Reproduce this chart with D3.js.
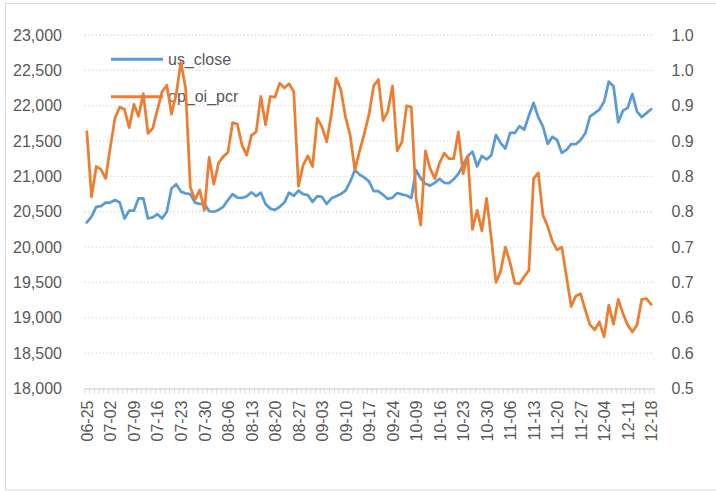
<!DOCTYPE html>
<html>
<head>
<meta charset="utf-8">
<script src="https://cdn.jsdelivr.net/npm/d3@7"></script>
<style>
  body { margin: 0; background: #fff; }
  svg { display: block; font-family: "Liberation Sans", Arial, sans-serif; }
  .tick text { fill: #595959; font-size: 16px; }
</style>
</head>
<body>
<div id="chart"></div>
<script>
// category labels shown on the axis (every 5th trading day)
var tickLabels = ["06-25", "07-02", "07-09", "07-16", "07-23", "07-30", "08-06", "08-13", "08-20", "08-27",
  "09-03", "09-10", "09-17", "09-24", "10-09", "10-16", "10-23", "10-30", "11-06", "11-13",
  "11-20", "11-27", "12-04", "12-11", "12-18"];
var labelStep = 5;

var usClose = [20350, 20430, 20570, 20580, 20630, 20630, 20665, 20630, 20405, 20515,
  20515, 20690, 20690, 20405, 20420, 20465, 20405, 20500, 20830, 20890,
  20785, 20760, 20750, 20630, 20610, 20610, 20510, 20500, 20525, 20570,
  20665, 20750, 20700, 20695, 20720, 20775, 20720, 20770, 20610, 20545,
  20525, 20570, 20630, 20770, 20725, 20800, 20750, 20735, 20640, 20720,
  20710, 20610, 20690, 20720, 20750, 20800, 20925, 21090, 21025, 20985,
  20930, 20790, 20790, 20740, 20680, 20700, 20765, 20745, 20730, 20695,
  21090, 20970, 20895, 20870, 20910, 20965, 20910, 20905, 20960, 21035,
  21160, 21290, 21350, 21140, 21290, 21240, 21300, 21585, 21470, 21395,
  21615, 21615, 21710, 21660, 21860, 22040, 21835, 21705, 21460, 21560,
  21515, 21335, 21375, 21455, 21455, 21515, 21610, 21850, 21895, 21945,
  22060, 22340, 22275, 21765, 21930, 21970, 22165, 21915, 21840, 21895,
  21950];

var opOiPcr = [0.863, 0.771, 0.814, 0.810, 0.797, 0.842, 0.883, 0.898, 0.895, 0.869,
  0.902, 0.885, 0.917, 0.861, 0.868, 0.894, 0.920, 0.929, 0.888, 0.917,
  0.961, 0.925, 0.785, 0.767, 0.781, 0.752, 0.827, 0.789, 0.819, 0.828,
  0.834, 0.876, 0.874, 0.844, 0.830, 0.858, 0.863, 0.913, 0.873, 0.913,
  0.912, 0.932, 0.925, 0.931, 0.920, 0.786, 0.816, 0.829, 0.814, 0.882,
  0.870, 0.849, 0.888, 0.939, 0.923, 0.884, 0.858, 0.809, 0.836, 0.860,
  0.888, 0.928, 0.937, 0.879, 0.892, 0.928, 0.836, 0.849, 0.900, 0.898,
  0.770, 0.731, 0.836, 0.811, 0.797, 0.819, 0.833, 0.825, 0.825, 0.863,
  0.804, 0.829, 0.725, 0.752, 0.723, 0.769, 0.713, 0.650, 0.666, 0.700,
  0.678, 0.649, 0.648, 0.658, 0.667, 0.797, 0.805, 0.745, 0.729, 0.708,
  0.696, 0.700, 0.658, 0.616, 0.631, 0.634, 0.611, 0.590, 0.583, 0.594,
  0.573, 0.618, 0.591, 0.626, 0.606, 0.590, 0.580, 0.590, 0.626, 0.627,
  0.619];

var leftTicks = [18000, 18500, 19000, 19500, 20000, 20500, 21000, 21500, 22000, 22500, 23000];
var rightTicks = [0.5, 0.55, 0.6, 0.65, 0.7, 0.75, 0.8, 0.85, 0.9, 0.95, 1.0];
var rightTickLabels = ["0.5", "0.6", "0.6", "0.7", "0.7", "0.8", "0.8", "0.9", "0.9", "1.0", "1.0"];

var series = [
  {name: "us_close", values: usClose, color: "#5B9BD5", axis: "left"},
  {name: "op_oi_pcr", values: opOiPcr, color: "#ED7D31", axis: "right"}
];

var width = 716, height = 491;
var plot = {left: 84.5, right: 653.5, top: 35, bottom: 388.5};
var n = usClose.length;

var svg = d3.select("#chart").append("svg")
  .attr("width", width)
  .attr("height", height);

// outer chart frame
svg.append("rect")
  .attr("x", 5.5).attr("y", 3.5)
  .attr("width", 720).attr("height", 486.5)
  .attr("fill", "none")
  .attr("stroke", "#D9D9D9");

var x = d3.scaleLinear().domain([-0.5, n - 0.5]).range([plot.left, plot.right]);
var yL = d3.scaleLinear().domain([18000, 23000]).range([plot.bottom, plot.top]);
var yR = d3.scaleLinear().domain([0.5, 1.0]).range([plot.bottom, plot.top]);

// dotted gridlines
svg.append("g").selectAll("line")
  .data(leftTicks.slice(1))
  .enter().append("line")
  .attr("x1", plot.left).attr("x2", plot.right)
  .attr("y1", function(d) { return yL(d); })
  .attr("y2", function(d) { return yL(d); })
  .attr("stroke", "#D9D9D9")
  .attr("stroke-width", 1.3)
  .attr("stroke-dasharray", "1.3,2.4");

// left axis
var leftAxis = svg.append("g")
  .attr("transform", "translate(" + plot.left + ",0)")
  .call(d3.axisLeft(yL).tickValues(leftTicks).tickFormat(d3.format(",")).tickSize(0).tickPadding(22.5));
leftAxis.select(".domain").remove();

// right axis
var rightAxis = svg.append("g")
  .attr("transform", "translate(" + plot.right + ",0)")
  .call(d3.axisRight(yR).tickValues(rightTicks)
    .tickFormat(function(d, i) { return rightTickLabels[i]; })
    .tickSize(0).tickPadding(18));
rightAxis.select(".domain").remove();

// category axis: small tick between each category
var minorTicks = d3.range(n + 1).map(function(i) { return i - 0.5; });
var tickAxis = svg.append("g")
  .attr("transform", "translate(0," + plot.bottom + ")")
  .call(d3.axisBottom(x).tickValues(minorTicks).tickFormat("").tickSize(5).tickSizeOuter(0));
tickAxis.selectAll("line").attr("stroke", "#D9D9D9").attr("stroke-width", 1);
tickAxis.select(".domain").attr("stroke", "#D9D9D9").attr("stroke-width", 1.5);

var labelIdx = tickLabels.map(function(d, i) { return i * labelStep; });
var labelAxis = svg.append("g")
  .attr("transform", "translate(0," + plot.bottom + ")")
  .call(d3.axisBottom(x).tickValues(labelIdx)
    .tickFormat(function(d) { return tickLabels[d / labelStep]; })
    .tickSize(0));
labelAxis.select(".domain").remove();
labelAxis.selectAll("text")
  .attr("text-anchor", "end")
  .attr("transform", "rotate(-90)")
  .attr("x", -12)
  .attr("y", 0)
  .attr("dy", "0.35em");

// legend (drawn under the lines, as in the original)
var legend = svg.append("g").selectAll("g")
  .data(series)
  .enter().append("g")
  .attr("transform", function(d, i) { return "translate(111," + (59.3 + i * 37.4) + ")"; });
legend.append("line")
  .attr("x1", 0).attr("x2", 52)
  .attr("stroke", function(d) { return d.color; })
  .attr("stroke-width", 3);
legend.append("text")
  .attr("x", 57)
  .attr("dy", "0.35em")
  .attr("fill", "#595959")
  .style("font-size", "16px")
  .text(function(d) { return d.name; });

// series lines
series.forEach(function(s) {
  var yScale = s.axis === "left" ? yL : yR;
  var line = d3.line()
    .x(function(d, i) { return x(i); })
    .y(function(d) { return yScale(d); });
  svg.append("path")
    .datum(s.values)
    .attr("d", line)
    .attr("fill", "none")
    .attr("stroke", s.color)
    .attr("stroke-width", 2.75)
    .attr("stroke-linejoin", "round")
    .attr("stroke-linecap", "round");
});
</script>
</body>
</html>
